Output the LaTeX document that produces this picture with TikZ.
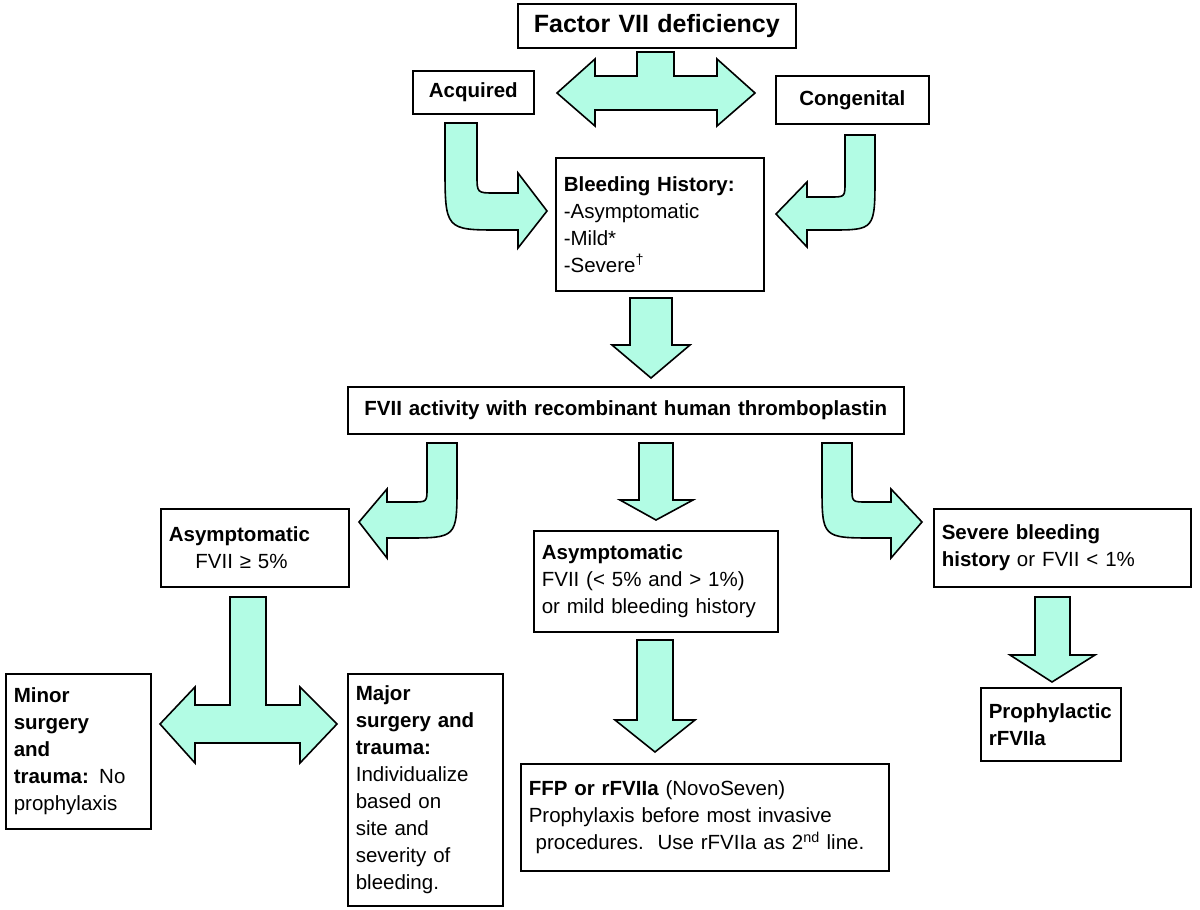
\documentclass[tikz,border=0pt]{standalone}
\usepackage{fontspec}
\setmainfont{Liberation Sans}
\usepackage{tikz}
\usetikzlibrary{positioning}
\definecolor{mint}{RGB}{178,252,228}
\tikzset{
  box/.style={draw, line width=1.6pt, anchor=north west, align=left, inner xsep=8pt,
    font=\fontsize{20.5}{27}\selectfont},
  barrow/.style={draw, fill=mint, line width=1.6pt, line join=miter}
}
\begin{document}
\begin{tikzpicture}[x=1pt, y=-1pt]
        \useasboundingbox (0,0) rectangle (1200,910);
        % Top: deficiency and origin
        \node (factor) [box, align=center, text width=262pt, minimum height=44pt,
          font=\fontsize{25}{28}\selectfont\bfseries] at (517,3) {Factor VII deficiency};
        \node (acq) [box, align=center, text width=105pt, minimum height=43pt] at (412,70) {\textbf{Acquired}};
        \node (cong) [box, align=center, text width=137pt, minimum height=48pt] at (775,75) {\textbf{Congenital}};
        \node (bleed) [box, text width=192pt, minimum height=133pt] at (555,157)
          {\textbf{Bleeding History:}\\-Asymptomatic\\-Mild*\\-Severe\textsuperscript{\dag}};

        % Middle: activity test
        \node (fvii) [box, align=center, text width=540pt, minimum height=47pt] at (347,386)
          {\textbf{FVII activity with recombinant human thromboplastin}};
        \node (asym) [box, text width=172pt, minimum height=78pt] at (160,508)
          {\textbf{Asymptomatic}\\\hspace*{1.3em}FVII ≥ 5\%};
        \node (mild) [box, text width=228pt, minimum height=101pt] at (533,530)
          {\textbf{Asymptomatic}\\FVII (< 5\% and > 1\%)\\or mild bleeding history};
        \node (severe) [box, text width=241pt, minimum height=78pt] at (933,508)
          {\textbf{Severe bleeding}\\\textbf{history} or FVII < 1\%};

        % Bottom: management
        \node (minor) [box, text width=129pt, minimum height=155pt] at (5,673)
          {\textbf{Minor}\\\textbf{surgery}\\\textbf{and}\\\makebox[0pt][l]{\textbf{trauma:} No}\\prophylaxis};
        \node (major) [box, text width=139pt, minimum height=232pt] at (347,673)
          {\textbf{Major}\\\makebox[0pt][l]{\textbf{surgery and}}\\\textbf{trauma:}\\Individualize\\based on\\site and\\severity of\\bleeding.};
        \node (ffp) [box, text width=352pt, minimum height=107pt] at (520,763)
          {\textbf{FFP or rFVIIa} (NovoSeven)\\\makebox[0pt][l]{Prophylaxis before most invasive}\\\makebox[0pt][l]{\ procedures.\ \ Use rFVIIa as 2\textsuperscript{nd} line.}};
        \node (proph) [box, text width=124pt, minimum height=73pt] at (980,687)
          {\textbf{Prophylactic}\\\textbf{rFVIIa}};

        % Block arrows
        \draw[barrow] (637,52) -- (674,52) -- (674,76) -- (717,76) -- (717,59) -- (755,93)
          -- (717,126) -- (717,110) -- (595,110) -- (595,126) -- (557,93) -- (595,59)
          -- (595,76) -- (637,76) -- cycle;
        \draw[barrow] (445,123) -- (477,123) -- (477,175) .. controls (477,193) .. (495,193)
          -- (518,193) -- (518,173) -- (547,211) -- (518,248) -- (518,230) -- (500,230)
          .. controls (445,230) .. (445,165) -- cycle;
        \draw[barrow] (875,135) -- (845,135) -- (845,182) .. controls (845,197) .. (830,197)
          -- (807,197) -- (807,182) -- (776,214) -- (807,247) -- (807,230) -- (830,230)
          .. controls (875,230) .. (875,175) -- cycle;
        \draw[barrow] (630,298) -- (672,298) -- (672,345) -- (690,345) -- (651,378)
          -- (612,345) -- (630,345) -- cycle;
        \draw[barrow] (457,443) -- (427,443) -- (427,488) .. controls (427,502) .. (412,502)
          -- (387,502) -- (387,489) -- (359,522) -- (387,558) -- (387,538) -- (405,538)
          .. controls (457,538) .. (457,485) -- cycle;
        \draw[barrow] (639,443) -- (673,443) -- (673,500) -- (693,500) -- (656,520)
          -- (620,500) -- (639,500) -- cycle;
        \draw[barrow] (822,443) -- (852,443) -- (852,488) .. controls (852,502) .. (867,502)
          -- (891,502) -- (891,489) -- (922,522) -- (891,558) -- (891,538) -- (875,538)
          .. controls (822,538) .. (822,485) -- cycle;
        \draw[barrow] (230,597) -- (266,597) -- (266,705) -- (300,705) -- (300,687) -- (337,724)
          -- (300,763) -- (300,743) -- (195,743) -- (195,763) -- (160,724) -- (195,687)
          -- (195,705) -- (230,705) -- cycle;
        \draw[barrow] (637,640) -- (673,640) -- (673,720) -- (695,720) -- (655,752)
          -- (615,720) -- (637,720) -- cycle;
        \draw[barrow] (1035,597) -- (1070,597) -- (1070,655) -- (1095,655) -- (1052,682)
          -- (1010,655) -- (1035,655) -- cycle;
    \end{tikzpicture}
\end{document}
